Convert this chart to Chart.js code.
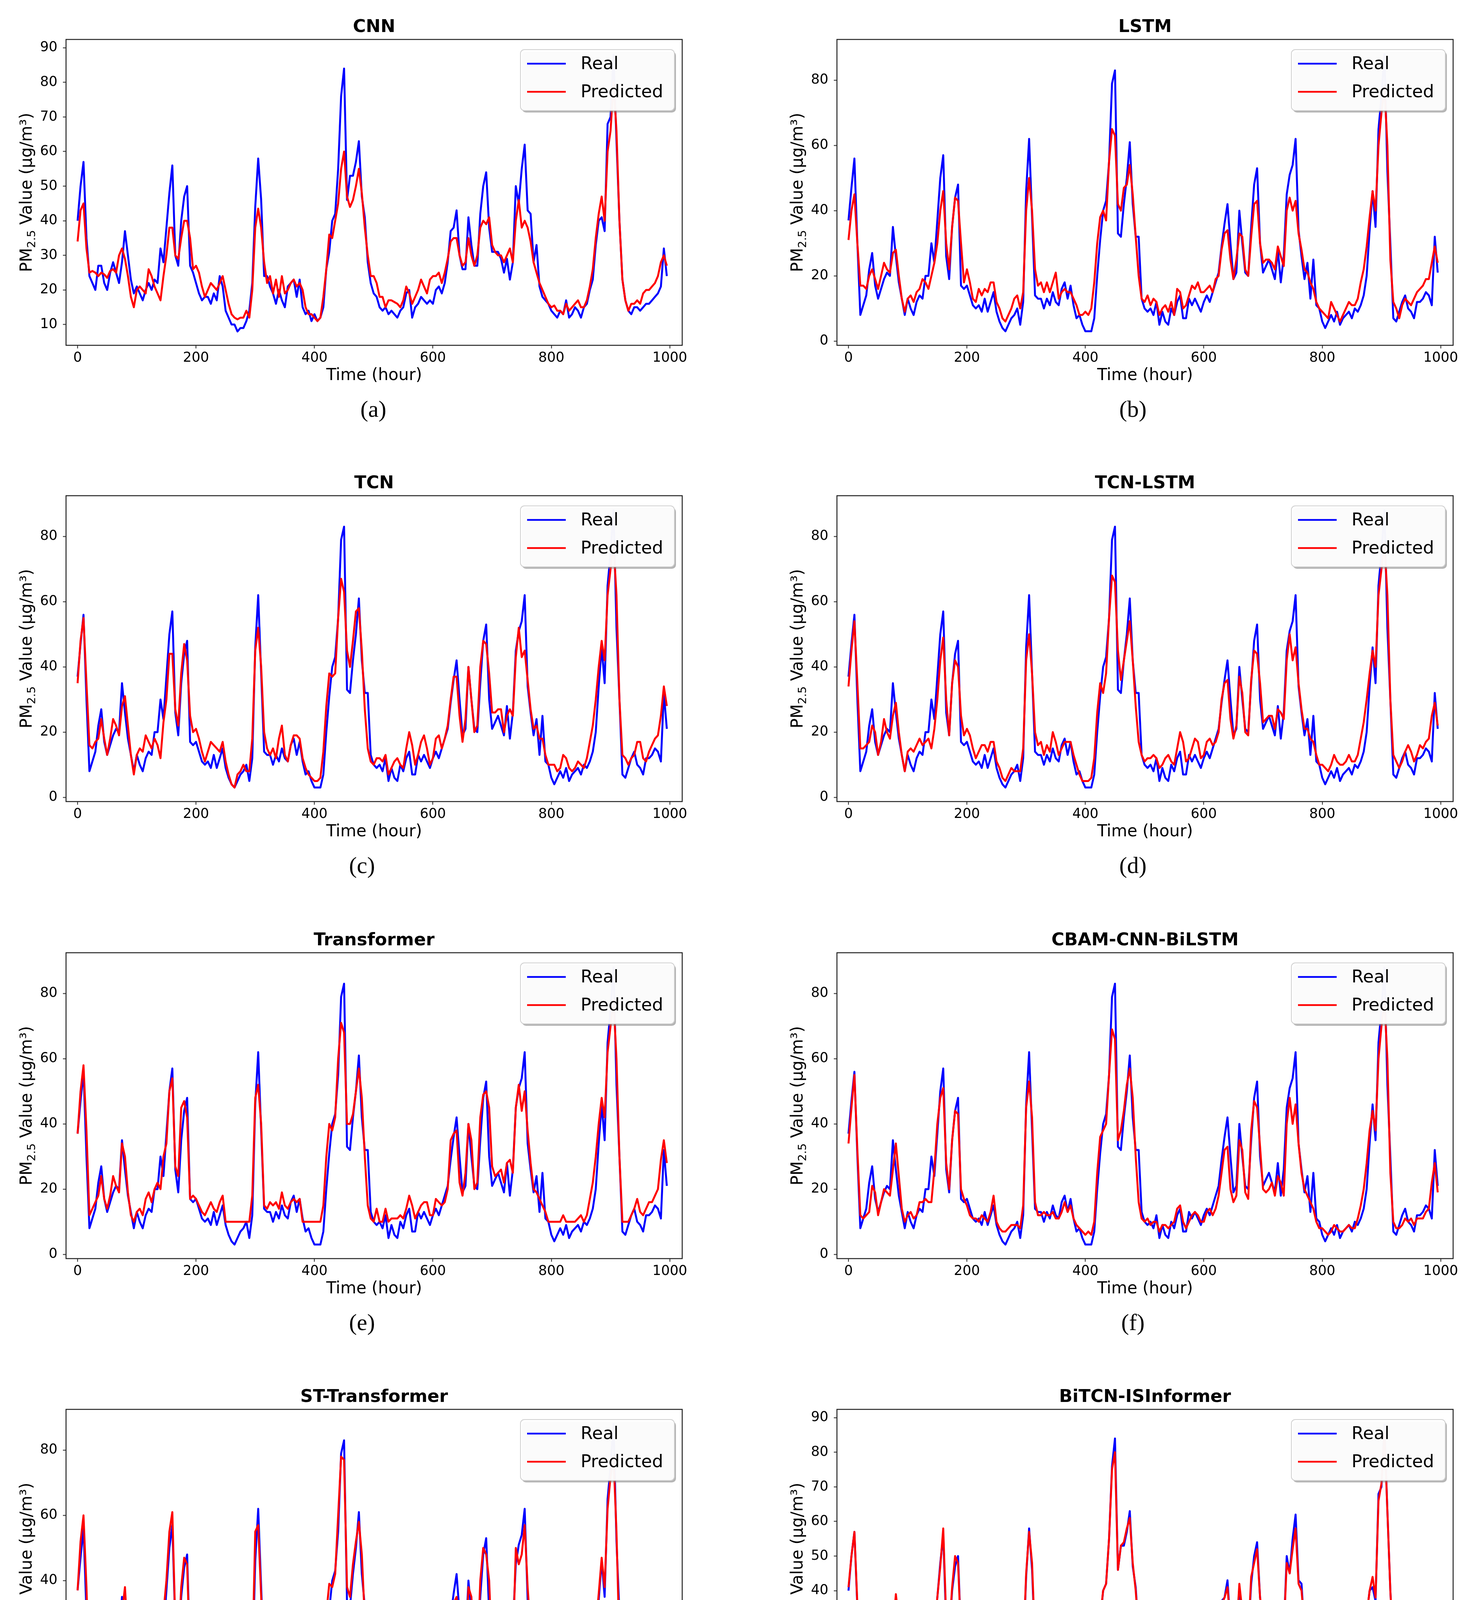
<!DOCTYPE html>
<html>
<head>
<meta charset="utf-8">
<script src="https://cdn.jsdelivr.net/npm/chart.js@4.4.1/dist/chart.umd.min.js"></script>
<style>
  html, body { margin: 0; padding: 0; background: #fff; }
  #fig { position: relative; width: 3775px; height: 4642px; overflow: hidden; background: #fff; }
  #fig canvas { position: absolute; }
</style>
</head>
<body>
<div id="fig"></div>
<script>
// sampled every 5 hours, 0 .. 995
const HOURS = Array.from({ length: 200 }, (_, i) => i * 5);

const X_TICKS = [0, 200, 400, 600, 800, 1000];
const Y_TICKS_WIDE = [10, 20, 30, 40, 50, 60, 70, 80, 90];
const Y_TICKS = [0, 20, 40, 60, 80];

// real series as plotted in (a) and (h)
const REAL_A = [
  40, 50, 57, 35, 24, 22, 20, 27, 27, 22,
  20, 25, 28, 25, 22, 28, 37, 30, 23, 19,
  21, 19, 17, 20, 22, 20, 23, 22, 32, 28,
  38, 48, 56, 30, 27, 40, 47, 50, 27, 25,
  22, 19, 17, 18, 18, 16, 19, 17, 24, 21,
  14, 12, 10, 10, 8, 9, 9, 11, 14, 22,
  44, 58, 46, 24, 24, 21, 19, 16, 20, 17,
  15, 21, 22, 23, 18, 23, 15, 13, 14, 11,
  13, 11, 12, 15, 26, 31, 40, 42, 55, 76,
  84, 46, 53, 53, 57, 63, 47, 41, 28, 22,
  19, 18, 15, 14, 15, 13, 14, 13, 12, 14,
  15, 19, 20, 12, 15, 16, 18, 17, 16, 17,
  16, 20, 21, 19, 22, 28, 37, 38, 43, 30,
  26, 26, 41, 33, 27, 27, 42, 50, 54, 38,
  31, 31, 31, 29, 25, 29, 23, 28, 50, 45,
  55, 62, 43, 42, 28, 33, 21, 18, 17, 16,
  14, 13, 12, 14, 13, 17, 12, 13, 15, 14,
  12, 15, 16, 20, 23, 33, 40, 41, 37, 68,
  70, 88, 63, 40, 23, 17, 14, 13, 15, 15,
  14, 15, 16, 16, 17, 18, 19, 21, 32, 24
];

// real series as plotted in (b) .. (g)
const REAL_B = [
  37, 47, 56, 30, 8, 11, 14, 22, 27, 17,
  13, 16, 19, 21, 20, 35, 26, 18, 13, 8,
  13, 10, 8, 12, 14, 13, 20, 20, 30, 24,
  37, 50, 57, 26, 19, 35, 44, 48, 17, 16,
  17, 14, 11, 10, 11, 9, 13, 9, 12, 15,
  9, 6, 4, 3, 5, 7, 8, 10, 5, 12,
  46, 62, 38, 14, 13, 13, 10, 13, 11, 15,
  12, 11, 16, 18, 13, 17, 11, 7, 8, 5,
  3, 3, 3, 7, 20, 31, 40, 43, 55, 79,
  83, 33, 32, 42, 50, 61, 42, 32, 32, 13,
  10, 9, 10, 8, 12, 5, 9, 6, 5, 10,
  8, 12, 14, 7, 7, 13, 11, 13, 11, 9,
  12, 14, 12, 15, 18, 21, 29, 36, 42, 30,
  19, 21, 40, 30, 21, 20, 35, 48, 53, 30,
  21, 23, 25, 22, 19, 28, 18, 26, 45, 51,
  54, 62, 34, 26, 19, 24, 13, 25, 11, 10,
  6, 4, 6, 8, 6, 9, 5, 7, 8, 9,
  7, 10, 9, 11, 14, 20, 34, 46, 35, 65,
  75, 88, 52, 30, 7, 6, 9, 12, 14, 10,
  9, 7, 12, 12, 13, 15, 14, 11, 32, 21
];

const PRED_CNN = [
  34, 43, 45, 32, 25, 25.5, 25, 24, 25, 24.5,
  23.5, 25.5, 26, 25, 30, 32, 29, 24, 18, 15,
  20, 21, 20, 19, 26, 24, 21, 19, 17, 24,
  30, 38, 38, 30, 29, 35, 40, 40, 35, 26,
  27, 25, 21, 18, 20, 22, 21, 20, 22, 24,
  20, 16, 13, 12, 11.5, 12, 12, 14, 12, 20,
  38, 43.5, 38, 28, 22, 24, 19, 23, 18, 24,
  19, 20, 22, 23, 21, 22, 20, 15, 13, 13,
  12, 11, 12, 18, 26, 36, 35, 40, 45, 55,
  60, 47, 44, 46, 50, 55, 48, 38, 30, 24,
  24, 22, 18, 18, 15, 17, 17, 16.5, 16, 15,
  17, 21, 19, 16, 18, 20, 23, 21, 19, 23,
  24, 24, 25, 22, 25, 29, 34, 35, 35, 30,
  27, 28, 35, 30, 27, 30, 38, 40, 39, 41,
  33, 31, 30, 30, 28, 30, 32, 28, 40, 46,
  38, 40, 38, 34, 28, 25, 22, 20, 18, 16,
  15, 15.5, 14, 14, 13, 16, 14, 15, 16, 17,
  15, 15, 17, 21, 26, 35, 42, 47, 40, 60,
  66, 80, 66, 40, 23, 17, 14, 16, 16, 17,
  16, 19, 20, 20, 21, 22, 24, 28, 30, 27
];

const PRED_LSTM = [
  31, 40, 45, 30, 17, 17, 16, 20, 22, 19,
  16, 20, 24, 22, 21, 27, 28, 20, 13, 9,
  13, 14, 12, 15, 16, 19, 18, 16, 20, 24,
  30, 40, 46, 30, 22, 35, 44, 43, 30, 18,
  22, 18, 13, 12, 16, 14, 16, 15, 18, 18,
  12, 10, 7, 6, 8, 10, 13, 14, 10, 15,
  40, 50, 40, 22, 17, 18, 15, 18, 15, 18,
  21, 13, 15, 16, 15, 15, 13, 11, 8, 8,
  9, 8, 10, 18, 30, 38, 40, 37, 55, 65,
  63, 42, 40, 47, 48, 54, 45, 32, 20, 13,
  12, 14, 11, 13, 12, 8, 10, 11, 9, 12,
  8, 16, 15, 10, 11, 14, 17, 16, 18, 15,
  15, 16, 17, 15, 19, 20, 28, 33, 34, 25,
  19, 25, 33, 32, 22, 20, 32, 42, 43, 30,
  24, 25, 25, 24, 22, 29, 26, 23, 40, 44,
  40, 43, 33, 28, 22, 21, 18, 16, 12, 10,
  9, 8, 7, 12, 10, 8, 6, 8, 10, 12,
  11, 11, 13, 18, 22, 29, 38, 46, 40, 60,
  70, 78, 60, 25, 12, 10, 7, 11, 13, 12,
  11, 13, 15, 16, 17, 19, 19, 24, 29, 24
];

const PRED_TCN = [
  35, 48, 55, 35, 16, 15, 17, 18, 24, 18,
  13, 18, 24, 22, 19, 28, 31, 22, 13, 7,
  13, 15, 14, 19, 17, 15, 18, 16, 12, 23,
  30, 44, 44, 27, 22, 38, 47, 42, 25, 20,
  21, 18, 14, 11, 14, 17, 16, 15, 14, 17,
  11, 7, 4, 3, 7, 8, 10, 8, 8, 18,
  45, 52, 40, 20, 15, 13, 15, 12, 18, 22,
  13, 11, 16, 19, 19, 18, 12, 9, 7, 6,
  5, 5, 6, 14, 28, 38, 37, 38, 55, 67,
  63, 45, 40, 48, 57, 58, 45, 27, 15, 11,
  10, 12, 12, 11, 13, 7, 9, 11, 12, 10,
  9, 15, 20, 16, 10, 13, 17, 19, 15, 10,
  12, 18, 19, 15, 18, 22, 30, 37, 37, 25,
  17, 24, 40, 30, 20, 22, 40, 48, 47, 38,
  26, 26, 27, 27, 20, 25, 27, 25, 43, 52,
  43, 45, 36, 27, 21, 22, 18, 18, 13, 10,
  10, 10, 8, 9, 13, 12, 9, 8, 9, 11,
  10, 9, 12, 17, 22, 30, 40, 48, 42, 62,
  70, 78, 62, 30, 13, 12, 10, 12, 13, 17,
  17, 12, 11, 14, 16, 18, 19, 25, 34, 28
];

const PRED_TCN_LSTM = [
  34, 45, 54, 35, 15, 15, 16, 17, 22, 20,
  13, 17, 24, 20, 18, 25, 29, 20, 13, 8,
  14, 15, 14, 16, 18, 16, 17, 18, 15, 21,
  30, 42, 49, 30, 19, 35, 42, 40, 25, 19,
  21, 19, 15, 12, 14, 16, 16, 14, 17, 17,
  11, 9, 6, 5, 7, 9, 8, 8, 8, 15,
  42, 50, 38, 20, 16, 17, 13, 16, 14, 20,
  17, 13, 15, 17, 17, 17, 13, 10, 7, 5,
  5, 5, 6, 12, 26, 35, 32, 38, 55, 68,
  66, 45, 36, 42, 48, 54, 42, 28, 17, 13,
  11, 12, 12, 13, 12, 9, 10, 12, 13, 11,
  10, 15, 20, 17, 11, 12, 15, 18, 17, 12,
  13, 17, 18, 16, 17, 20, 30, 35, 36, 24,
  18, 22, 37, 32, 20, 19, 36, 45, 44, 35,
  23, 24, 25, 25, 21, 27, 26, 24, 42, 50,
  42, 46, 35, 27, 21, 21, 18, 17, 13, 10,
  10, 9, 8, 10, 13, 11, 10, 10, 11, 13,
  11, 11, 13, 18, 23, 30, 38, 45, 40, 62,
  70, 78, 62, 30, 13, 11, 9, 11, 14, 16,
  14, 11, 13, 16, 15, 17, 18, 25, 29, 22
];

const PRED_TRANSFORMER = [
  37, 50, 58, 38, 12, 14, 16, 18, 24, 17,
  14, 18, 24, 21, 19, 34, 30, 19, 12, 10,
  13, 14, 12, 17, 19, 16, 20, 22, 20, 30,
  34, 50, 54, 27, 24, 45, 47, 42, 17, 18,
  17, 15, 13, 12, 14, 16, 14, 13, 16, 18,
  10, 10, 10, 10, 10, 10, 10, 10, 10, 18,
  48, 52, 40, 15, 14, 16, 15, 16, 14, 19,
  15, 14, 16, 17, 16, 17, 10, 10, 10, 10,
  10, 10, 10, 15, 30, 40, 38, 42, 60, 71,
  68, 40, 40, 43, 50, 57, 48, 30, 15, 11,
  10, 14, 10, 10, 14, 10, 11, 11, 11, 12,
  11, 14, 18, 15, 11, 13, 15, 16, 16, 12,
  12, 17, 16, 15, 16, 20, 35, 37, 38, 22,
  18, 25, 40, 35, 20, 22, 42, 49, 50, 45,
  27, 24, 25, 26, 22, 28, 29, 25, 45, 52,
  44, 50, 38, 28, 20, 19, 17, 15, 13, 10,
  10, 10, 10, 10, 12, 10, 10, 10, 10, 11,
  12, 10, 12, 17, 22, 30, 40, 48, 42, 62,
  70, 78, 60, 30, 10, 10, 10, 12, 14, 17,
  13, 12, 14, 16, 16, 18, 20, 29, 35, 28
];

const PRED_CBAM = [
  34, 45, 55, 32, 12, 11, 12, 13, 21, 19,
  12, 16, 20, 19, 18, 26, 34, 24, 14, 10,
  12, 13, 11, 12, 16, 16, 17, 16, 16, 26,
  40, 48, 51, 28, 20, 35, 44, 43, 20, 17,
  15, 12, 11, 11, 10, 12, 11, 10, 13, 18,
  10, 8, 7, 7, 8, 9, 9, 9, 8, 15,
  45, 53, 42, 16, 12, 12, 13, 12, 12, 13,
  11, 11, 13, 16, 13, 15, 11, 9, 8, 7,
  6, 7, 6, 10, 25, 36, 38, 40, 55, 69,
  66, 35, 38, 44, 52, 57, 48, 30, 16, 11,
  10, 11, 9, 10, 10, 7, 9, 9, 8, 9,
  10, 14, 15, 10, 8, 10, 12, 13, 12, 10,
  10, 13, 14, 12, 14, 18, 25, 32, 33, 20,
  16, 18, 35, 32, 19, 17, 38, 47, 45, 33,
  20, 19, 20, 22, 18, 24, 22, 18, 40, 48,
  40, 46, 34, 25, 20, 18, 16, 14, 10, 8,
  8, 7, 6, 7, 9, 8, 7, 7, 8, 9,
  8, 8, 11, 15, 20, 28, 38, 44, 38, 60,
  70, 78, 60, 25, 10, 8, 8, 9, 11, 10,
  11, 9, 11, 11, 11, 13, 14, 22, 28, 19
];

const PRED_ST_TRANSFORMER = [
  37, 52, 60, 38, 9, 10, 11, 14, 22, 15,
  11, 14, 21, 19, 16, 30, 38, 22, 11, 7,
  11, 10, 9, 10, 13, 12, 18, 20, 20, 30,
  40, 55, 61, 27, 19, 38, 47, 45, 15, 13,
  12, 10, 9, 10, 9, 10, 12, 9, 13, 16,
  8, 6, 5, 5, 6, 6, 7, 8, 7, 15,
  55, 57, 35, 11, 10, 10, 12, 10, 9, 15,
  10, 9, 10, 15, 10, 13, 9, 7, 6, 5,
  5, 5, 6, 12, 30, 39, 38, 42, 60, 78,
  77, 38, 35, 45, 52, 58, 48, 28, 10, 8,
  8, 10, 7, 8, 9, 6, 8, 9, 7, 8,
  9, 13, 14, 9, 7, 10, 12, 12, 11, 9,
  9, 12, 13, 11, 12, 16, 24, 33, 35, 20,
  15, 14, 38, 35, 18, 16, 40, 50, 48, 40,
  17, 18, 22, 24, 17, 28, 20, 18, 50, 45,
  48, 57, 38, 24, 20, 18, 12, 13, 8, 6,
  6, 5, 5, 6, 8, 7, 6, 6, 7, 8,
  7, 7, 10, 14, 18, 26, 36, 47, 38, 62,
  72, 78, 55, 20, 7, 7, 7, 8, 9, 8,
  9, 8, 9, 10, 10, 12, 14, 30, 32, 20
];

const PRED_BITCN = [
  41, 50, 57, 36, 24, 22, 21, 27, 27, 22,
  20, 24, 29, 25, 22, 28, 39, 31, 23, 20,
  21, 20, 18, 20, 23, 21, 23, 22, 33, 29,
  38, 47, 58, 32, 28, 41, 50, 48, 27, 25,
  23, 19, 18, 18, 18, 17, 19, 18, 25, 22,
  15, 12, 11, 11, 11.5, 12, 12.5, 13, 14, 22,
  45, 57, 48, 25, 23, 22, 19, 17, 20, 18,
  16, 21, 23, 22, 19, 24, 16, 14, 14, 12,
  13, 12, 12, 15, 26, 32, 40, 42, 55, 75,
  80, 46, 53, 54, 58, 61, 48, 40, 28, 23,
  20, 19, 15, 14, 15, 14, 14, 13, 13, 15,
  16, 19, 21, 14, 16, 16, 19, 18, 17, 18,
  17, 21, 22, 19, 22, 28, 36, 38, 41, 30,
  25, 27, 42, 34, 27, 27, 44, 48, 52, 38,
  32, 31, 31, 30, 25, 33, 23, 28, 48, 45,
  52, 58, 42, 40, 30, 32, 22, 19, 17, 16,
  14, 13, 13, 14, 14, 17, 13, 14, 15, 14,
  13, 15, 17, 20, 24, 33, 40, 44, 38, 66,
  71, 86, 63, 40, 23, 18, 15, 14, 16, 16,
  15, 16, 17, 16, 18, 19, 20, 22, 34, 24
];

const PANELS = [
  { title: 'CNN', tag: '(a)', real: REAL_A, pred: PRED_CNN, yTicks: Y_TICKS_WIDE, yMin: 4, yMax: 92.4, row: 0, col: 0, capDx: -2 },
  { title: 'LSTM', tag: '(b)', real: REAL_B, pred: PRED_LSTM, yTicks: Y_TICKS, yMin: -1.3, yMax: 92.5, row: 0, col: 1, capDx: -31 },
  { title: 'TCN', tag: '(c)', real: REAL_B, pred: PRED_TCN, yTicks: Y_TICKS, yMin: -1.3, yMax: 92.5, row: 1, col: 0, capDx: -31 },
  { title: 'TCN-LSTM', tag: '(d)', real: REAL_B, pred: PRED_TCN_LSTM, yTicks: Y_TICKS, yMin: -1.3, yMax: 92.5, row: 1, col: 1, capDx: -31 },
  { title: 'Transformer', tag: '(e)', real: REAL_B, pred: PRED_TRANSFORMER, yTicks: Y_TICKS, yMin: -1.3, yMax: 92.5, row: 2, col: 0, capDx: -31 },
  { title: 'CBAM-CNN-BiLSTM', tag: '(f)', real: REAL_B, pred: PRED_CBAM, yTicks: Y_TICKS, yMin: -1.3, yMax: 92.5, row: 2, col: 1, capDx: -31 },
  { title: 'ST-Transformer', tag: '(g)', real: REAL_B, pred: PRED_ST_TRANSFORMER, yTicks: Y_TICKS, yMin: -1.3, yMax: 92.5, row: 3, col: 0, capDx: -31 },
  { title: 'BiTCN-ISInformer', tag: '(h)', real: REAL_A, pred: PRED_BITCN, yTicks: Y_TICKS_WIDE, yMin: 4, yMax: 92.4, row: 3, col: 1, capDx: -31 }
];

// page geometry (px)
const CANVAS_W = 1888;
const CANVAS_H = 1169;
const COL_X = [0, 1887];
const ROW_BOX_TOP = [101, 1269, 2439, 3608];
const BOX_LEFT = [169, 2142];
const BOX_W = 1577;
const BOX_H = 783;
const Y_AXIS_W = 90;
const X_AXIS_H = 50;

const SANS = '"DejaVu Sans", "Liberation Sans", sans-serif';
const SERIF = '"Liberation Serif", "DejaVu Serif", serif';

function drawYLabel(ctx, x, y) {
  ctx.save();
  ctx.translate(x, y);
  ctx.rotate(-Math.PI / 2);
  ctx.fillStyle = '#000';
  ctx.textAlign = 'left';
  ctx.textBaseline = 'alphabetic';
  const big = '42px ' + SANS;
  const small = '29px ' + SANS;
  const parts = [['PM', big, 0], ['2.5', small, 9], [' Value (μg/m³)', big, 0]];
  let total = 0;
  parts.forEach(p => { ctx.font = p[1]; total += ctx.measureText(p[0]).width; });
  let cx = -total / 2;
  parts.forEach(p => {
    ctx.font = p[1];
    ctx.fillText(p[0], cx, p[2]);
    cx += ctx.measureText(p[0]).width;
  });
  ctx.restore();
}

function roundRect(ctx, x, y, w, h, r) {
  ctx.beginPath();
  ctx.moveTo(x + r, y);
  ctx.lineTo(x + w - r, y);
  ctx.arcTo(x + w, y, x + w, y + r, r);
  ctx.lineTo(x + w, y + h - r);
  ctx.arcTo(x + w, y + h, x + w - r, y + h, r);
  ctx.lineTo(x + r, y + h);
  ctx.arcTo(x, y + h, x, y + h - r, r);
  ctx.lineTo(x, y + r);
  ctx.arcTo(x, y, x + r, y, r);
  ctx.closePath();
}

function drawLegend(ctx, area) {
  const w = 394, h = 156;
  const x = area.right - 20 - w;
  const y = area.top + 26;
  ctx.save();
  roundRect(ctx, x + 4, y + 5, w, h, 10);
  ctx.fillStyle = 'rgba(120,120,120,0.55)';
  ctx.fill();
  roundRect(ctx, x, y, w, h, 10);
  ctx.fillStyle = 'rgba(255,255,255,0.95)';
  ctx.fill();
  ctx.lineWidth = 2;
  ctx.strokeStyle = '#d0d0d0';
  ctx.stroke();
  const rows = [['Real', '#0000ff', 36], ['Predicted', '#ff0000', 108]];
  ctx.font = '45px ' + SANS;
  ctx.textAlign = 'left';
  ctx.textBaseline = 'middle';
  rows.forEach(r => {
    ctx.beginPath();
    ctx.moveTo(x + 17, y + r[2]);
    ctx.lineTo(x + 116, y + r[2]);
    ctx.lineWidth = 4.5;
    ctx.strokeStyle = r[1];
    ctx.stroke();
    ctx.fillStyle = '#000';
    ctx.fillText(r[0], x + 154, y + r[2] + 2);
  });
  ctx.restore();
}

const mplDecor = {
  id: 'mplDecor',
  afterDraw(chart, args, opts) {
    const ctx = chart.ctx;
    const a = chart.chartArea;
    const cx = (a.left + a.right) / 2;
    ctx.save();
    // axes frame
    ctx.lineWidth = 2.5;
    ctx.strokeStyle = '#222';
    ctx.strokeRect(a.left, a.top, a.right - a.left, a.bottom - a.top);
    // title
    ctx.fillStyle = '#000';
    ctx.textAlign = 'center';
    ctx.textBaseline = 'middle';
    ctx.font = 'bold 45px ' + SANS;
    ctx.fillText(opts.title, cx, a.top - 31);
    // x label
    ctx.font = '42px ' + SANS;
    ctx.fillText('Time (hour)', cx, a.bottom + 78);
    // caption
    ctx.font = '60px ' + SERIF;
    ctx.fillText(opts.tag, cx + opts.capDx, a.bottom + 167);
    ctx.restore();
    drawYLabel(ctx, a.left - 88, (a.top + a.bottom) / 2);
    drawLegend(ctx, a);
  }
};

const fig = document.getElementById('fig');

PANELS.forEach(p => {
  const canvas = document.createElement('canvas');
  canvas.width = CANVAS_W;
  canvas.height = CANVAS_H;
  canvas.style.width = CANVAS_W + 'px';
  canvas.style.height = CANVAS_H + 'px';
  canvas.style.left = COL_X[p.col] + 'px';
  canvas.style.top = (ROW_BOX_TOP[p.row] - 101) + 'px';
  fig.appendChild(canvas);

  const areaLeft = BOX_LEFT[p.col] - COL_X[p.col];
  const areaTop = 101;
  const areaRight = areaLeft + BOX_W;
  const areaBottom = areaTop + BOX_H;

  const toPoints = vals => vals.map((v, i) => ({ x: HOURS[i], y: v }));

  new Chart(canvas, {
    type: 'line',
    data: {
      datasets: [
        { label: 'Real', data: toPoints(p.real), borderColor: '#0000ff', order: 2 },
        { label: 'Predicted', data: toPoints(p.pred), borderColor: '#ff0000', order: 1 }
      ]
    },
    options: {
      responsive: false,
      animation: false,
      devicePixelRatio: 1,
      parsing: false,
      events: [],
      layout: {
        padding: {
          left: areaLeft - Y_AXIS_W,
          top: areaTop,
          right: CANVAS_W - areaRight,
          bottom: CANVAS_H - areaBottom - X_AXIS_H
        }
      },
      elements: {
        line: { borderWidth: 5, tension: 0, fill: false, borderJoinStyle: 'round' },
        point: { radius: 0, hoverRadius: 0 }
      },
      scales: {
        x: {
          type: 'linear',
          min: -19.5,
          max: 1021,
          afterFit: s => { s.height = X_AXIS_H; },
          afterBuildTicks: s => { s.ticks = X_TICKS.map(v => ({ value: v })); },
          grid: { display: true, drawOnChartArea: false, drawTicks: true, tickLength: 8, tickWidth: 2, tickColor: '#222' },
          border: { display: false },
          ticks: {
            autoSkip: false, maxRotation: 0, padding: 4, color: '#000',
            font: { family: SANS, size: 35 },
            callback: v => String(v)
          }
        },
        y: {
          type: 'linear',
          min: p.yMin,
          max: p.yMax,
          afterFit: s => { s.width = Y_AXIS_W; },
          afterBuildTicks: s => { s.ticks = p.yTicks.map(v => ({ value: v })); },
          grid: { display: true, drawOnChartArea: false, drawTicks: true, tickLength: 8, tickWidth: 2, tickColor: '#222' },
          border: { display: false },
          ticks: {
            autoSkip: false, padding: 14, color: '#000',
            font: { family: SANS, size: 35 },
            callback: v => String(v)
          }
        }
      },
      plugins: {
        legend: { display: false },
        title: { display: false },
        tooltip: { enabled: false },
        mplDecor: { title: p.title, tag: p.tag, capDx: p.capDx }
      }
    },
    plugins: [mplDecor]
  });
});
</script>
</body>
</html>
